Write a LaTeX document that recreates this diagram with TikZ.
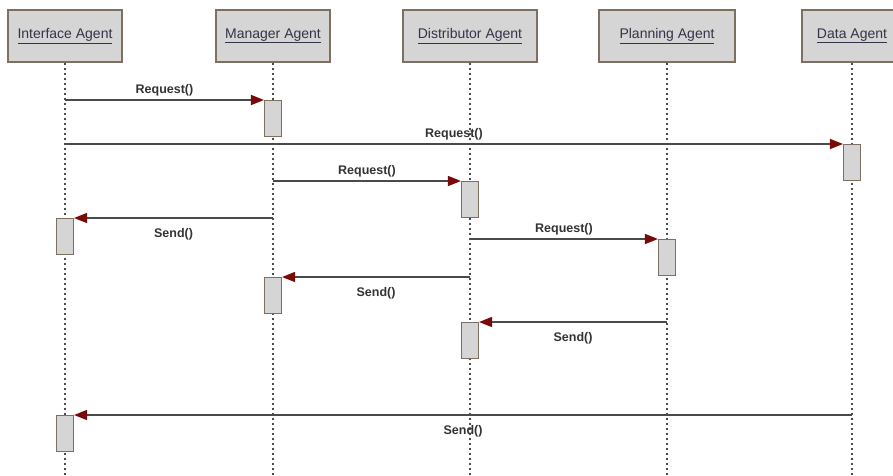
\documentclass[tikz,border=0pt]{standalone}
\usepackage{fontspec}
\setmainfont{Liberation Sans}
\usetikzlibrary{arrows.meta}
\definecolor{boxfill}{HTML}{D5D5D5}
\definecolor{boxline}{HTML}{7E7060}
\definecolor{headtext}{HTML}{33334A}
\definecolor{tipred}{HTML}{7A0A0A}
\definecolor{msgline}{HTML}{4A4A4A}

\begin{document}
\begin{tikzpicture}[x=1pt,y=-1pt,
  agent/.style={draw=boxline,fill=boxfill,line width=1.4pt,minimum height=52pt,
    font=\fontsize{14}{16}\selectfont,text=headtext},
  act/.style={draw=boxline,fill=boxfill,line width=1.1pt,minimum width=17pt,
    minimum height=36pt,anchor=north,inner sep=0pt},
  life/.style={draw=black!70,line width=1.5pt,dash pattern=on 2pt off 3pt},
  msg/.style={draw=msgline,line width=1.4pt,-{Triangle[length=13pt,width=10pt,color=tipred]}},
  lbl/.style={font=\bfseries\fontsize{12.5}{14}\selectfont,text=black!80,inner sep=2pt}]
\useasboundingbox (0,0) rectangle (893,475);

\node[agent,minimum width=114pt] (iface) at (65,36) {\underline{Interface Agent}};
\node[agent,minimum width=114pt] (mgr) at (273,36) {\underline{Manager Agent}};
\node[agent,minimum width=134pt] (dist) at (470,36) {\underline{Distributor Agent}};
\node[agent,minimum width=136pt] (plan) at (667,36) {\underline{Planning Agent}};
\node[agent,minimum width=100pt] (data) at (852,36) {\underline{Data Agent}};

\foreach \a in {iface,mgr,dist,plan,data}
  \draw[life] (\a.south) -- (\a.south |- 0,475);

\node[act] (m1) at (mgr.south |- 0,100) {};
\node[act] (d1) at (data.south |- 0,144) {};
\node[act] (t1) at (dist.south |- 0,181) {};
\node[act] (i1) at (iface.south |- 0,218) {};
\node[act] (p1) at (plan.south |- 0,239) {};
\node[act] (m2) at (mgr.south |- 0,277) {};
\node[act] (t2) at (dist.south |- 0,322) {};
\node[act] (i2) at (iface.south |- 0,415) {};

\draw[msg] (iface.south |- m1.north) -- (m1.north west) node[lbl,midway,above=1pt] {Request()};
\draw[msg] (iface.south |- d1.north) -- (d1.north west) node[lbl,midway,above=1pt] {Request()};
\draw[msg] (mgr.south |- t1.north) -- (t1.north west) node[lbl,midway,above=1pt] {Request()};
\draw[msg] (mgr.south |- i1.north) -- (i1.north east) node[lbl,midway,below=8pt] {Send()};
\draw[msg] (dist.south |- p1.north) -- (p1.north west) node[lbl,midway,above=1pt] {Request()};
\draw[msg] (dist.south |- m2.north) -- (m2.north east) node[lbl,midway,below=8pt] {Send()};
\draw[msg] (plan.south |- t2.north) -- (t2.north east) node[lbl,midway,below=8pt] {Send()};
\draw[msg] (data.south |- i2.north) -- (i2.north east) node[lbl,midway,below=8pt] {Send()};
\end{tikzpicture}
\end{document}
